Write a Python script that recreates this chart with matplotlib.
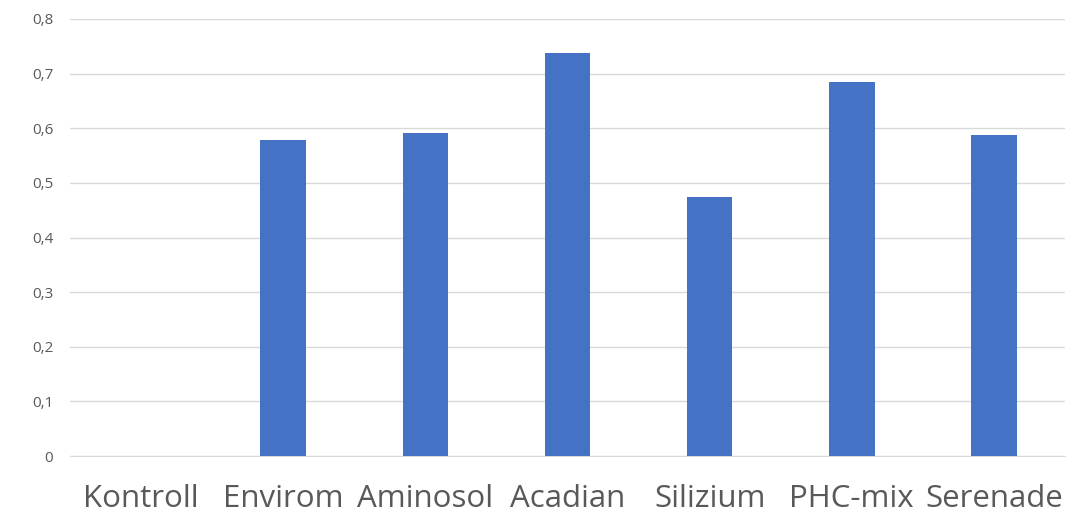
#!/usr/bin/env python3
# -*- coding: utf-8 -*-

import matplotlib
matplotlib.use("Agg")
import matplotlib.pyplot as plt
from matplotlib.ticker import FuncFormatter

# Donnees
categories = ["Kontroll", "Envirom", "Aminosol", "Acadian", "Silizium", "PHC-mix", "Serenade"]
valeurs = [0.0, 0.579, 0.592, 0.738, 0.475, 0.684, 0.588]
yticks = [0, 0.1, 0.2, 0.3, 0.4, 0.5, 0.6, 0.7, 0.8]

plt.rcParams['font.family'] = ['Open Sans', 'DejaVu Sans']

fig = plt.figure(figsize=(10.69, 5.19), dpi=100)
ax = fig.add_axes([70/1069, 1-456/519, 995/1069, (456-19)/519])

x = range(len(categories))
ax.bar(x, valeurs, width=0.32, color="#4472C4", zorder=3)

ax.set_xlim(-0.5, len(categories)-0.5)
ax.set_ylim(0, 0.8)
ax.set_yticks(yticks)
ax.yaxis.set_major_formatter(FuncFormatter(lambda v, p: "0" if v == 0 else ("%.1f" % v).replace(".", ",")))
ax.set_xticks(list(x))
ax.set_xticklabels(categories, fontsize=22.5, color="#595959")
ax.tick_params(axis="y", labelsize=11, colors="#595959", length=0, pad=12)
ax.tick_params(axis="x", length=0, pad=20)

ax.grid(axis="y", color="#D9D9D9", linewidth=1, zorder=0)
for s in ["top", "right", "left"]:
   ax.spines[s].set_visible(False)
ax.spines["bottom"].set_color("#D9D9D9")

fig.savefig("out.png", dpi=100)
